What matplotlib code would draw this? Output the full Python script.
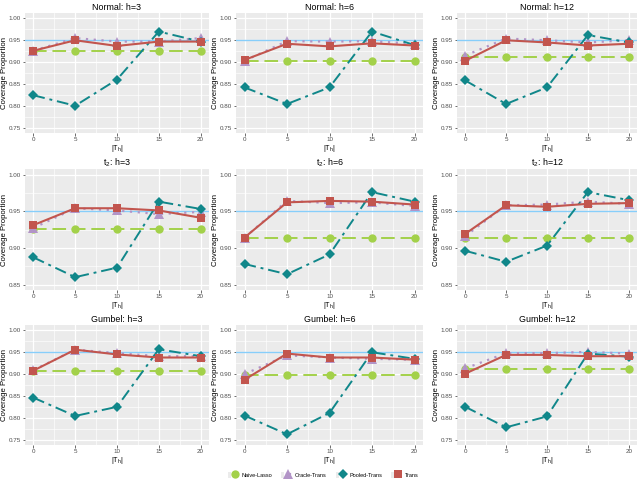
import matplotlib
matplotlib.use("Agg")
import matplotlib.pyplot as plt
from matplotlib.lines import Line2D
from matplotlib.patches import Rectangle
from matplotlib.legend_handler import HandlerTuple
import numpy as np

plt.rcParams['font.family'] = ['Liberation Sans', 'DejaVu Sans']
plt.rcParams['mathtext.default'] = 'regular'

x_vals = [0, 5, 10, 15, 20]
methods = ["Naive-Lasso", "Oracle-Trans", "Pooled-Trans", "Trans"]
dists = ["Normal", "t$_2$", "Gumbel"]
horizons = [3, 6, 12]

naive = {
    ("Normal", 3): [0.925] * 5,
    ("Normal", 6): [0.902] * 5,
    ("Normal", 12): [0.912] * 5,
    ("t2", 3): [0.926] * 5,
    ("t2", 6): [0.914] * 5,
    ("t2", 12): [0.914] * 5,
    ("Gumbel", 3): [0.907] * 5,
    ("Gumbel", 6): [0.897] * 5,
    ("Gumbel", 12): [0.911] * 5,
}
oracle = {
    ("Normal", 3): [0.926, 0.955, 0.947, 0.947, 0.955],
    ("Normal", 6): [0.903, 0.948, 0.947, 0.948, 0.942],
    ("Normal", 12): [0.915, 0.954, 0.950, 0.945, 0.950],
    ("t2", 3): [0.927, 0.954, 0.951, 0.946, 0.949],
    ("t2", 6): [0.914, 0.964, 0.961, 0.962, 0.957],
    ("t2", 12): [0.916, 0.958, 0.959, 0.963, 0.960],
    ("Gumbel", 3): [0.909, 0.956, 0.948, 0.941, 0.941],
    ("Gumbel", 6): [0.900, 0.943, 0.938, 0.935, 0.933],
    ("Gumbel", 12): [0.913, 0.948, 0.948, 0.951, 0.947],
}
pooled = {
    ("Normal", 3): [0.824, 0.800, 0.860, 0.970, 0.947],
    ("Normal", 6): [0.842, 0.804, 0.842, 0.970, 0.939],
    ("Normal", 12): [0.858, 0.804, 0.842, 0.962, 0.945],
    ("t2", 3): [0.887, 0.860, 0.873, 0.963, 0.953],
    ("t2", 6): [0.878, 0.864, 0.891, 0.976, 0.963],
    ("t2", 12): [0.896, 0.881, 0.903, 0.976, 0.965],
    ("Gumbel", 3): [0.846, 0.804, 0.825, 0.957, 0.941],
    ("Gumbel", 6): [0.805, 0.762, 0.811, 0.950, 0.935],
    ("Gumbel", 12): [0.825, 0.778, 0.803, 0.947, 0.940],
}
trans = {
    ("Normal", 3): [0.926, 0.950, 0.937, 0.947, 0.947],
    ("Normal", 6): [0.905, 0.942, 0.936, 0.943, 0.938],
    ("Normal", 12): [0.903, 0.950, 0.945, 0.938, 0.942],
    ("t2", 3): [0.931, 0.954, 0.954, 0.951, 0.941],
    ("t2", 6): [0.914, 0.962, 0.964, 0.963, 0.959],
    ("t2", 12): [0.919, 0.958, 0.956, 0.960, 0.961],
    ("Gumbel", 3): [0.908, 0.956, 0.945, 0.938, 0.938],
    ("Gumbel", 6): [0.887, 0.947, 0.938, 0.938, 0.933],
    ("Gumbel", 12): [0.901, 0.944, 0.944, 0.941, 0.941],
}
dist_keys = ["Normal", "t2", "Gumbel"]
target = 0.95

colors = {"Naive-Lasso": "#A3D14A", "Oracle-Trans": "#B294C7",
          "Pooled-Trans": "#10878A", "Trans": "#C2554E"}
styles = {
    "Naive-Lasso": dict(ls=(0, (7, 3)), marker="o", ms=6.0, lw=1.4),
    "Oracle-Trans": dict(ls=(0, (1, 2.5)), marker="^", ms=7.0, lw=1.6),
    "Pooled-Trans": dict(ls=(0, (6, 2.5, 1.5, 2.5)), marker="D", ms=4.6, lw=1.4),
    "Trans": dict(ls="-", marker="s", ms=5.5, lw=1.5),
}
data = {"Naive-Lasso": naive, "Oracle-Trans": oracle,
        "Pooled-Trans": pooled, "Trans": trans}

W, H = 640, 479
fig = plt.figure(figsize=(W / 100, H / 100), dpi=100)

col_px = [(25, 209), (236, 423), (457, 637)]
row_px = [(13, 133), (169, 290), (325, 445)]
ylims = [(0.75, 1.0), (0.85, 1.0), (0.75, 1.0)]

grey = "#4D4D4D"
for r, dk in enumerate(dist_keys):
    lo, hi = ylims[r]
    pad = (hi - lo) * 0.05
    for c, h in enumerate(horizons):
        x0, x1 = col_px[c]
        y0, y1 = row_px[r]
        ax = fig.add_axes([x0 / W, 1 - y1 / H, (x1 - x0) / W, (y1 - y0) / H])
        ax.set_facecolor("#EBEBEB")
        for s in ax.spines.values():
            s.set_visible(False)
        ax.set_xlim(-1, 21)
        ax.set_ylim(lo - pad, hi + pad)
        ax.set_xticks(x_vals)
        yt = np.round(np.arange(lo, hi + 1e-9, 0.05), 2)
        ax.set_yticks(yt)
        ax.set_yticklabels([f"{v:.2f}" for v in yt])
        ax.set_xticks([2.5, 7.5, 12.5, 17.5], minor=True)
        ax.set_yticks(np.round(yt[:-1] + 0.025, 3), minor=True)
        ax.grid(True, which="major", color="white", lw=0.9)
        ax.grid(True, which="minor", color="white", lw=0.45)
        ax.set_axisbelow(True)
        ax.tick_params(which="major", length=1.8, width=0.5, color="#333333",
                       labelsize=4.5, labelcolor=grey, pad=1)
        ax.tick_params(which="minor", length=0)
        ax.axhline(target, color="#87CEFA", lw=1.0, zorder=1.5)
        for m in methods:
            st = styles[m]
            ax.plot(x_vals, data[m][(dk, h)], color=colors[m], ls=st["ls"],
                    lw=st["lw"], marker=st["marker"], ms=st["ms"],
                    markeredgewidth=0, zorder=3)
        ax.set_title(f"{dists[r]}: h={h}", fontsize=6.4, pad=2.5)
        ax.set_xlabel("|T$_h$|", fontsize=5.2, labelpad=0.5)
        ax.set_ylabel("Coverage Proportion", fontsize=5.6, labelpad=0.8)

handles = []
for m in methods:
    st = styles[m]
    bg = Rectangle((0, 0), 1, 1, facecolor="#EBEBEB", edgecolor="none")
    ln = Line2D([0], [0], color=colors[m], ls="-", lw=st["lw"],
                marker=st["marker"], ms=st["ms"], markeredgewidth=0)
    handles.append((bg, ln))
fig.legend(handles, methods, loc="lower center", ncol=4, frameon=False,
           fontsize=4.0, bbox_to_anchor=(0.505, -0.008), handlelength=1.6,
           handleheight=1.3, columnspacing=1.6, handletextpad=0.9,
           handler_map={tuple: HandlerTuple(ndivide=None)})

fig.savefig("out.png", dpi=100)
